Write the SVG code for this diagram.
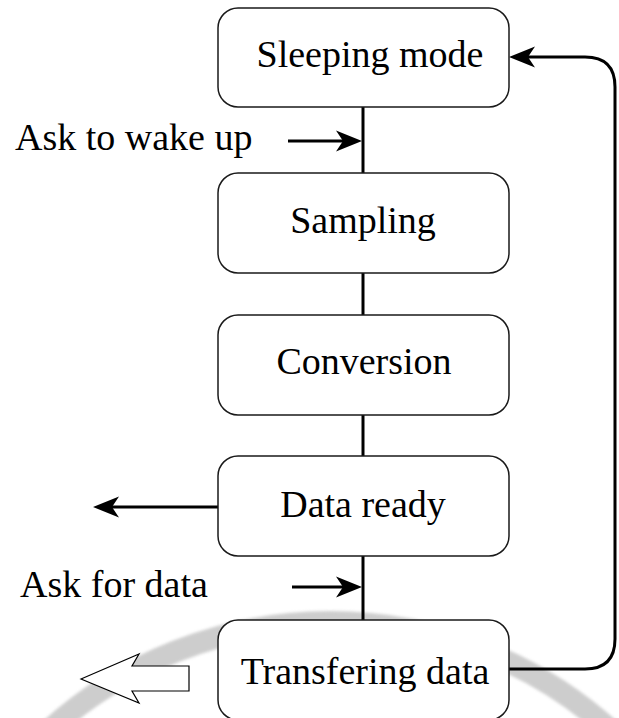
<svg xmlns="http://www.w3.org/2000/svg" width="619" height="718" viewBox="0 0 619 718">
  <style>
    .box { fill: #ffffff; stroke: #1a1a1a; stroke-width: 1.5; }
    .label { font-family: "Liberation Serif", "DejaVu Serif", serif; font-size: 38px; fill: #000000; }
    .mid { text-anchor: middle; }
    .wire { fill: none; stroke: #000000; stroke-width: 3; }
  </style>
  <defs>
    <marker id="head" viewBox="0 -11 27 22" markerWidth="27" markerHeight="22" refX="7" refY="0" orient="auto" markerUnits="userSpaceOnUse">
      <path d="M26,0 L0,-10.5 L7,0 L0,10.5 Z" fill="#000000"/>
    </marker>
    <filter id="soft" x="-10%" y="-10%" width="120%" height="120%">
      <feGaussianBlur stdDeviation="1.5"/>
    </filter>
  </defs>

  <rect width="619" height="718" fill="#ffffff"/>

  <!-- faint seal band in the background -->
  <g id="seal-band" filter="url(#soft)" opacity="0.75">
    <circle cx="330" cy="1040" r="418" fill="none" stroke="#bdbdbd" stroke-width="22"/>
  </g>

  <g id="connectors">
    <!-- spine between the states -->
    <line class="wire" x1="363" y1="107" x2="363" y2="173"/>
    <line class="wire" x1="363" y1="273" x2="363" y2="315"/>
    <line class="wire" x1="363" y1="415" x2="363" y2="456"/>
    <line class="wire" x1="363" y1="556" x2="363" y2="620"/>
    <!-- incoming requests -->
    <line class="wire" x1="288" y1="141" x2="343" y2="141" marker-end="url(#head)"/>
    <line class="wire" x1="292" y1="587" x2="343" y2="587" marker-end="url(#head)"/>
    <!-- data ready signal -->
    <line class="wire" x1="218" y1="507" x2="112" y2="507" marker-end="url(#head)"/>
    <!-- return loop to sleeping mode -->
    <path class="wire" d="M509,669 H585 Q615,669 615,639 V87 Q615,57 585,57 H528" marker-end="url(#head)"/>
    <!-- hollow output arrow -->
    <polygon points="81,679 139,654 132,666 189,666 189,691 132,691 139,703" fill="#ffffff" stroke="#000000" stroke-width="1.2"/>
  </g>

  <g id="sleeping">
    <rect class="box" x="218" y="8" width="291" height="99" rx="20"/>
    <text class="label mid" x="370" y="67">Sleeping mode</text>
  </g>
  <g id="sampling">
    <rect class="box" x="218" y="173" width="291" height="100" rx="20"/>
    <text class="label mid" x="363" y="233">Sampling</text>
  </g>
  <g id="conversion">
    <rect class="box" x="218" y="315" width="291" height="100" rx="20"/>
    <text class="label mid" x="364" y="374">Conversion</text>
  </g>
  <g id="data-ready">
    <rect class="box" x="218" y="456" width="291" height="100" rx="20"/>
    <text class="label mid" x="363" y="517">Data ready</text>
  </g>
  <g id="transfering">
    <rect class="box" x="218" y="620" width="291" height="100" rx="20"/>
    <text class="label mid" x="365" y="684">Transfering data</text>
  </g>

  <g id="request-labels">
    <text class="label" x="15" y="150">Ask to wake up</text>
    <text class="label" x="20" y="597" font-size="37">Ask for data</text>
  </g>
</svg>
